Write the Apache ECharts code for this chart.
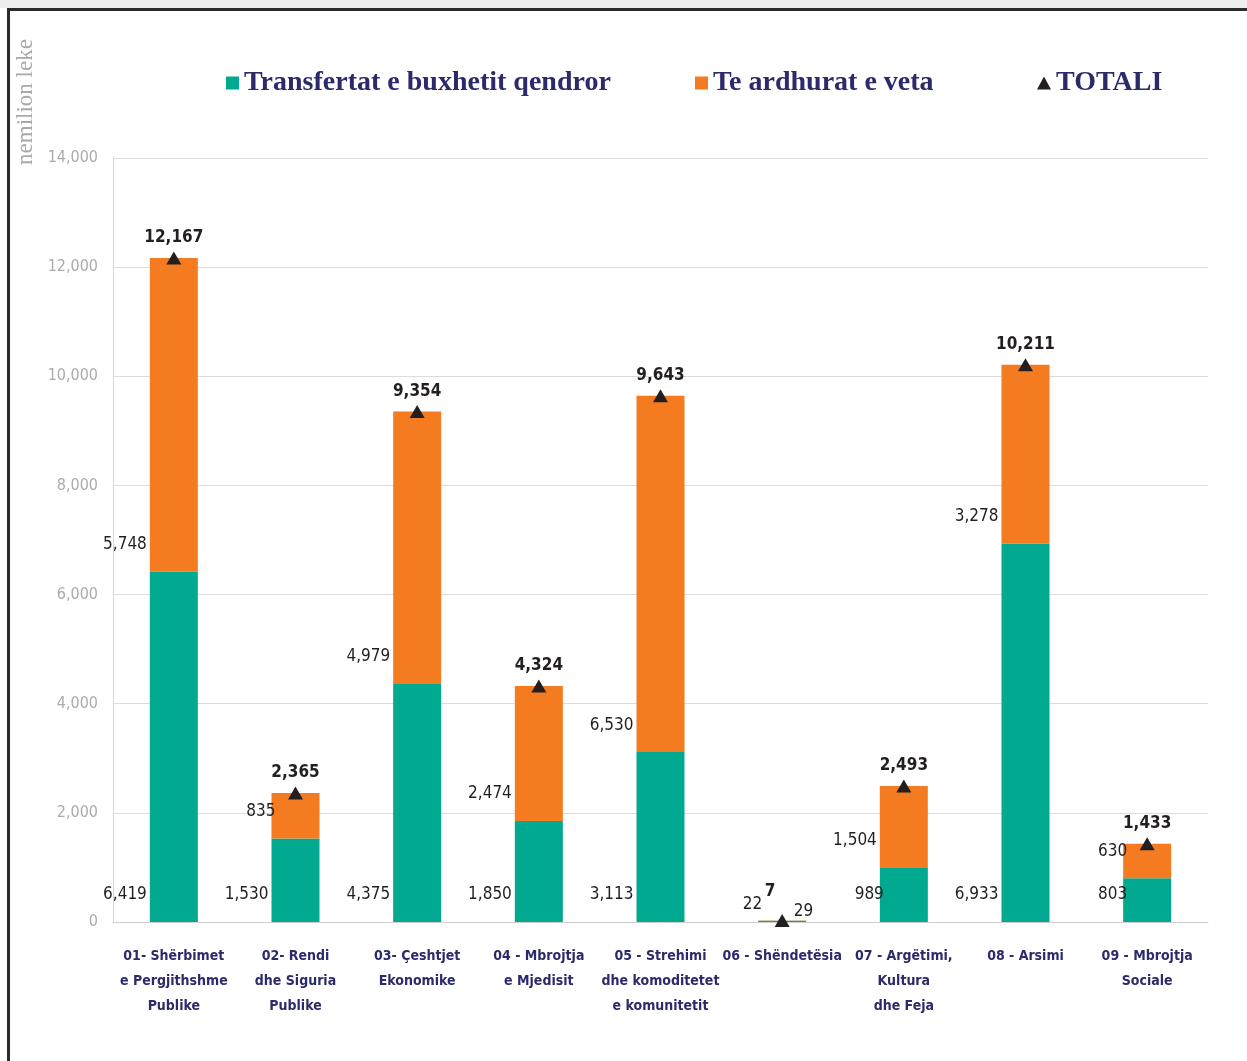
<!DOCTYPE html>
<html>
<head>
<meta charset="utf-8">
<title>Transfertat dhe te ardhurat e veta</title>
<script src="https://cdn.jsdelivr.net/npm/echarts@6/dist/echarts.min.js"></script>
<style>
  html, body { margin: 0; padding: 0; background: #fff; }
  #strip { position: absolute; left: 0; top: 0; width: 1247px; height: 8px; background: #eeeeee; }
  #frame { position: absolute; left: 7px; top: 8px; width: 1240px; height: 1053px;
           border-left: 3px solid #2b2b2b; border-top: 3px solid #2b2b2b; box-sizing: border-box; }
  #chart { position: absolute; left: 0; top: 0; width: 1247px; height: 1061px; }
</style>
</head>
<body>
<div id="strip"></div>
<div id="frame"></div>
<div id="chart"></div>
<script>
// kategorite
const categories = [
  "01- Shërbimet\ne Pergjithshme\nPublike",
  "02- Rendi\ndhe Siguria\nPublike",
  "03- Çeshtjet\nEkonomike",
  "04 - Mbrojtja\ne Mjedisit",
  "05 - Strehimi\ndhe komoditetet\ne komunitetit",
  "06 - Shëndetësia",
  "07 - Argëtimi,\nKultura\ndhe Feja",
  "08 - Arsimi",
  "09 - Mbrojtja\nSociale"
];
// vlerat (nemilion leke)
const transfertat = [6419, 1530, 4375, 1850, 3113, 22, 989, 6933, 803];
const teArdhurat = [5748, 835, 4979, 2474, 6530, 7, 1504, 3278, 630];
const totali = [12167, 2365, 9354, 4324, 9643, 29, 2493, 10211, 1433];
const yTicks = [0, 2000, 4000, 6000, 8000, 10000, 12000, 14000];

const GREEN = "#00a98f";
const ORANGE = "#f47b20";
const NAVY = "#2b2a6b";
const INK = "#231f20";
const NARROW = "'Liberation Sans Narrow', 'DejaVu Sans Condensed', 'Roboto Condensed', 'Noto Sans', sans-serif";
const SERIF = "'Liberation Serif', 'DejaVu Serif', serif";

const fmt = (v) => Number(v).toLocaleString("en-US");

// etiketat e segmenteve: majtas shtylles, ~27px mbi fundin e segmentit
function segLabel(v) {
  return {
    show: true,
    position: "insideBottomLeft",
    distance: 0,
    align: "right",
    verticalAlign: "middle",
    offset: [v >= 1000 ? -3 : 4, -27],
    formatter: (p) => fmt(p.value),
    fontFamily: NARROW,
    fontSize: 17,
    color: INK
  };
}

const greenData = transfertat.map((v, i) => {
  const item = { value: v, label: segLabel(v) };
  if (i === 5) item.label.offset = [4, -17];
  return item;
});

const orangeData = teArdhurat.map((v, i) => {
  const item = { value: v, label: segLabel(v) };
  if (i === 5) {
    item.label = {
      show: true, position: [12, -29], align: "center", verticalAlign: "middle",
      formatter: (p) => fmt(p.value), fontFamily: NARROW, fontSize: 17,
      fontWeight: "bold", color: INK
    };
  }
  return item;
});

const totalData = totali.map((v, i) => {
  const item = { value: v };
  if (i === 5) {
    item.label = { position: "right", distance: 4, offset: [0, -9], fontWeight: "normal" };
  }
  return item;
});

const chart = echarts.init(document.getElementById("chart"));

const legendText = { fontFamily: SERIF, fontSize: 28, fontWeight: "bold", color: NAVY };

chart.setOption({
  animation: false,
  backgroundColor: "transparent",
  grid: { left: 113, right: 39, top: 158, bottom: 139, containLabel: false },
  legend: [
    {
      data: ["Transfertat e buxhetit qendror"], left: 221, top: 64,
      itemWidth: 13, itemHeight: 13, icon: "rect", textStyle: legendText
    },
    {
      data: ["Te ardhurat e veta"], left: 690, top: 64,
      itemWidth: 13, itemHeight: 13, icon: "rect", textStyle: legendText
    },
    {
      data: ["TOTALI"], left: 1032, top: 64,
      itemWidth: 14, itemHeight: 13, icon: "triangle", textStyle: legendText
    }
  ],
  graphic: [
    {
      type: "text", x: 26, y: 102, rotation: Math.PI / 2,
      style: {
        text: "nemilion leke", fontFamily: SERIF, fontSize: 23, fill: "#a9a9a9",
        textAlign: "center", textVerticalAlign: "middle"
      }
    }
  ],
  xAxis: {
    type: "category",
    data: categories,
    axisLine: { lineStyle: { color: "#cfcfcf", width: 1 } },
    axisTick: { show: false },
    axisLabel: {
      interval: 0, margin: 22, lineHeight: 25,
      fontFamily: NARROW, fontSize: 14, fontWeight: "bold", color: NAVY
    }
  },
  yAxis: {
    type: "value",
    min: yTicks[0],
    max: yTicks[yTicks.length - 1],
    interval: 2000,
    axisLine: { show: true, lineStyle: { color: "#d6d6d6" } },
    axisTick: { show: false },
    splitLine: { lineStyle: { color: "#dcdcdc", width: 1 } },
    axisLabel: {
      margin: 15, fontFamily: NARROW, fontSize: 16, color: "#ababab",
      formatter: (v) => fmt(v)
    }
  },
  series: [
    {
      name: "Transfertat e buxhetit qendror",
      type: "bar", stack: "total", barWidth: 48,
      itemStyle: { color: GREEN },
      data: greenData
    },
    {
      name: "Te ardhurat e veta",
      type: "bar", stack: "total", barWidth: 48,
      itemStyle: { color: ORANGE },
      data: orangeData
    },
    {
      name: "TOTALI",
      type: "scatter",
      symbol: "triangle", symbolSize: [15, 13],
      itemStyle: { color: INK, opacity: 1 },
      z: 5,
      label: {
        show: true, position: "top", distance: 5,
        formatter: (p) => fmt(p.value),
        fontFamily: NARROW, fontSize: 17, fontWeight: "bold", color: INK
      },
      data: totalData
    }
  ]
});

window.addEventListener("resize", () => chart.resize());
</script>
</body>
</html>
